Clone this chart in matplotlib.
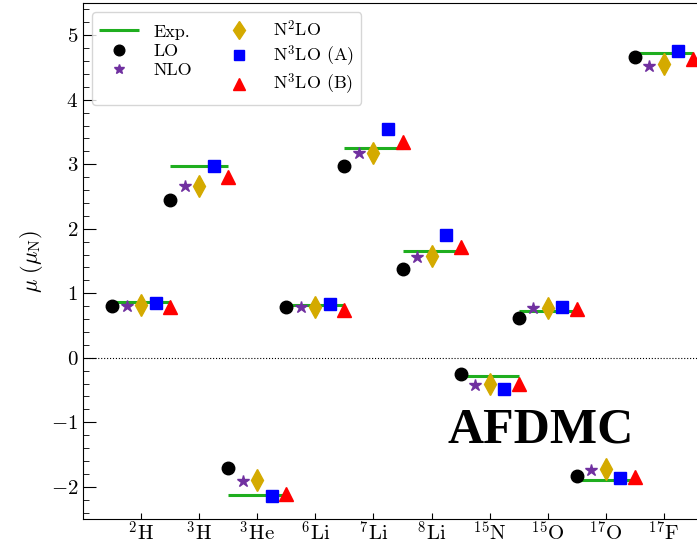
import numpy as np
import matplotlib
matplotlib.use('Agg')
import matplotlib.pyplot as plt

plt.rcParams['font.family'] = 'serif'
plt.rcParams['font.serif'] = ['cmr10', 'DejaVu Serif']
plt.rcParams['mathtext.fontset'] = 'cm'
plt.rcParams['axes.formatter.use_mathtext'] = True

nuclei = [r'$^{2}\mathrm{H}$', r'$^{3}\mathrm{H}$', r'$^{3}\mathrm{He}$', r'$^{6}\mathrm{Li}$',
          r'$^{7}\mathrm{Li}$', r'$^{8}\mathrm{Li}$', r'$^{15}\mathrm{N}$', r'$^{15}\mathrm{O}$',
          r'$^{17}\mathrm{O}$', r'$^{17}\mathrm{F}$']

# магнитные моменты, mu_N
exp = [0.857, 2.97, -2.13, 0.82, 3.25, 1.65, -0.28, 0.72, -1.90, 4.72]
lo = [0.81, 2.45, -1.71, 0.78, 2.98, 1.38, -0.25, 0.62, -1.83, 4.66]
nlo = [0.81, 2.66, -1.91, 0.78, 3.17, 1.56, -0.42, 0.77, -1.74, 4.52]
n2lo = [0.82, 2.66, -1.90, 0.78, 3.17, 1.58, -0.41, 0.77, -1.73, 4.55]
n3lo_a = [0.85, 2.97, -2.14, 0.83, 3.54, 1.90, -0.48, 0.78, -1.87, 4.75]
n3lo_b = [0.78, 2.81, -2.12, 0.74, 3.34, 1.71, -0.41, 0.75, -1.85, 4.63]

x = np.arange(len(nuclei))

fig = plt.figure(figsize=(6.97, 5.46), dpi=100)
ax = fig.add_axes([83 / 697, 27 / 546, 639 / 697, 516 / 546])

ax.hlines(exp, x - 0.5, x + 0.5, color='#1fae1f', lw=2.2, label='Exp.', zorder=2)
ax.plot(x - 0.5, lo, 'o', color='black', ms=9, ls='none', label='LO', zorder=3)
ax.plot(x - 0.25, nlo, '*', color='#7030a0', ms=9, ls='none', label='NLO', zorder=3)
ax.plot(x, n2lo, 'd', color='#d4aa00', ms=11, ls='none', label=r'N$^2$LO', zorder=3)
ax.plot(x + 0.25, n3lo_a, 's', color='blue', ms=9, ls='none', label=r'N$^3$LO (A)', zorder=3)
ax.plot(x + 0.5, n3lo_b, '^', color='red', ms=10, ls='none', label=r'N$^3$LO (B)', zorder=3)

ax.axhline(0, color='black', lw=0.8, ls=':', zorder=1)

ax.set_xlim(-1, 10)
ax.set_ylim(-2.5, 5.5)
ax.set_xticks(x)
ax.set_xticklabels(nuclei, fontsize=15)
ax.set_yticks(np.arange(-2, 6))
ax.set_yticks(np.arange(-2.4, 5.5, 0.2), minor=True)
ax.tick_params(axis='y', labelsize=15, direction='in', length=9)
ax.tick_params(axis='y', which='minor', direction='in', length=4)
ax.tick_params(axis='x', direction='in', length=4, pad=1.5)
ax.set_ylabel(r'$\mu\ (\mu_{\rm N})$', fontsize=16)

ax.text(6.88, -1.13, 'AFDMC', fontsize=36, fontweight='bold', family='Liberation Serif',
        ha='center', va='center')

ax.legend(loc='upper left', ncol=2, fontsize=13, handlelength=2.2, columnspacing=1.5,
          labelspacing=0.2, markerscale=0.85, borderaxespad=0.5)

plt.savefig('out.png', dpi=100)
